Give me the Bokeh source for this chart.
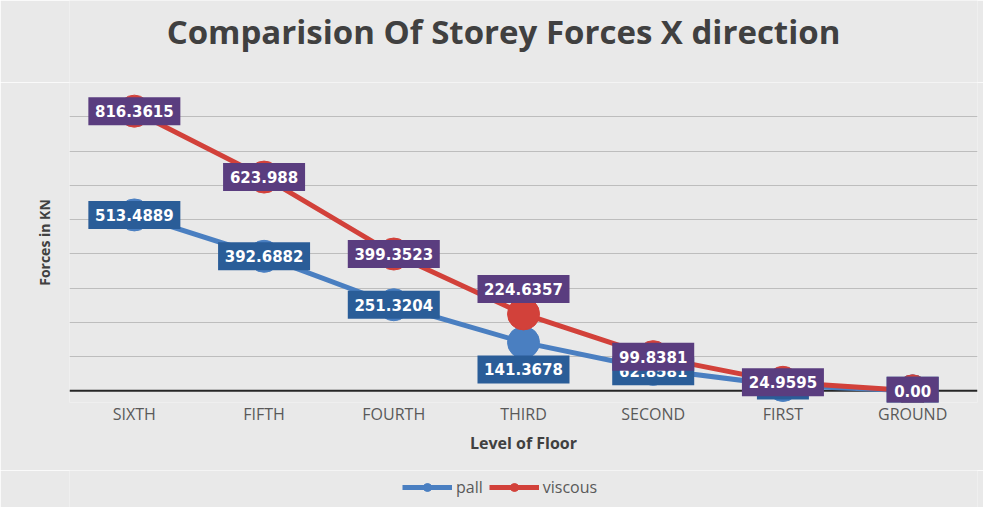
from bokeh.plotting import figure
from bokeh.layouts import column
from bokeh.models import (FactorRange, Range1d, FixedTicker, Span, Legend, LegendItem,
                          ColumnDataSource, Label)
from bokeh.core.properties import value
from bokeh.embed import file_html
from bokeh.resources import INLINE

floors = ["SIXTH", "FIFTH", "FOURTH", "THIRD", "SECOND", "FIRST", "GROUND"]
pall = [513.4889, 392.6882, 251.3204, 141.3678, 62.8581, 15.7, 0.0]
viscous = [816.3615, 623.988, 399.3523, 224.6357, 99.8381, 24.9595, 0.0]
pall_text = ["513.4889", "392.6882", "251.3204", "141.3678", "62.8581", "15.7", "0.00"]
viscous_text = ["816.3615", "623.988", "399.3523", "224.6357", "99.8381", "24.9595", "0.00"]
grid_ticks = [100, 200, 300, 400, 500, 600, 700, 800, 900]
series_names = ["pall", "viscous"]
title_text = "Comparision Of Storey Forces X direction"

# label placement (screen px, positive = down)
pall_dy = [0, 0, 0, 27, 2, 0, 0]
viscous_dy = [0, 0, 0, -25, 0, 0, 0]

Y0, Y1 = -34, 900
FRAME_H = 320
UNITS_PER_PX = (Y1 - Y0) / FRAME_H

BLUE = "#4A7FC1"
RED = "#D2413A"
BLUE_BOX = "#2A5D98"
PURPLE_BOX = "#5A3D7F"
BG = "#E9E9E9"
W = 983
L, R = 69, 6


def strip(height):
    f = figure(width=W, height=height, output_backend="svg", toolbar_location=None,
               x_range=Range1d(L, W - R), y_range=Range1d(height, 0),
               min_border_left=L, min_border_right=R, min_border_top=0, min_border_bottom=0,
               background_fill_color=BG, border_fill_color=BG)
    f.outline_line_color = None
    f.axis.visible = False
    f.grid.visible = False
    return f


# title strip
top = strip(82)
top.add_layout(Label(x=503, y=31, text=title_text, text_font="Open Sans",
                     text_font_size="33px", text_font_style="bold", text_color="#404040",
                     text_align="center", text_baseline="middle"))

# main chart
p = figure(width=W, height=388, output_backend="svg", toolbar_location=None,
           x_range=FactorRange(*floors, range_padding=0), y_range=Range1d(Y0, Y1),
           min_border_left=L, min_border_right=R, min_border_top=0, min_border_bottom=68,
           background_fill_color=BG, border_fill_color=BG)
p.outline_line_color = None

p.xgrid.grid_line_color = None
p.ygrid.ticker = FixedTicker(ticks=grid_ticks)
p.ygrid.grid_line_color = "#BDBDBD"
p.ygrid.grid_line_width = 1

p.yaxis.ticker = FixedTicker(ticks=grid_ticks)
p.yaxis.major_label_overrides = {t: " " for t in grid_ticks}
p.yaxis.major_label_text_font_size = "1px"
p.yaxis.major_label_standoff = 0
p.yaxis.major_tick_out = 0
p.yaxis.major_tick_line_color = None
p.yaxis.minor_tick_line_color = None
p.yaxis.axis_line_color = None
p.yaxis.axis_label = "Forces in KN"
p.yaxis.axis_label_text_font = "Open Sans"
p.yaxis.axis_label_text_font_size = "14px"
p.yaxis.axis_label_text_font_style = "bold"
p.yaxis.axis_label_text_color = "#404040"
p.yaxis.axis_label_standoff = 12

p.xaxis.axis_line_color = None
p.xaxis.major_tick_line_color = None
p.xaxis.major_tick_out = 0
p.xaxis.major_label_standoff = 0
p.xaxis.major_label_text_font = "Open Sans"
p.xaxis.major_label_text_font_size = "16px"
p.xaxis.major_label_text_color = "#595959"
p.xaxis.axis_label = "Level of Floor"
p.xaxis.axis_label_text_font = "Open Sans"
p.xaxis.axis_label_text_font_size = "16px"
p.xaxis.axis_label_text_font_style = "bold"
p.xaxis.axis_label_text_color = "#404040"
p.xaxis.axis_label_standoff = 4

p.add_layout(Span(location=0, dimension="width", line_color="#262626", line_width=2,
                  level="underlay"))


def box_width(texts):
    return [10 * len(t) + 12 for t in texts]


src = ColumnDataSource(dict(
    x=floors, pall=pall, viscous=viscous,
    pall_text=pall_text, viscous_text=viscous_text,
    pall_ly=[v - d * UNITS_PER_PX for v, d in zip(pall, pall_dy)],
    viscous_ly=[v - d * UNITS_PER_PX for v, d in zip(viscous, viscous_dy)],
    pall_w=box_width(pall_text), viscous_w=box_width(viscous_text)))

p.line("x", "pall", source=src, line_color=BLUE, line_width=5)
p.line("x", "viscous", source=src, line_color=RED, line_width=5)
p.scatter("x", "pall", source=src, size=32, fill_color=BLUE, line_color=BLUE)
p.scatter("x", "viscous", source=src, size=32, fill_color=RED, line_color=RED)

for col, box in [("pall", BLUE_BOX), ("viscous", PURPLE_BOX)]:
    p.rect("x", col + "_ly", width=col + "_w", height=28, width_units="screen",
           height_units="screen", source=src, fill_color=box, line_color=None)
    p.text("x", col + "_ly", text=col + "_text", source=src,
           text_font=value("DejaVu Sans"), text_font_style="bold", text_font_size="15px",
           text_color="white", text_align="center", text_baseline="middle")

# legend strip below the chart (proxy renderers hold no visible points)
lg = strip(37)
items = []
for name, color in zip(series_names, [BLUE, RED]):
    proxy = ColumnDataSource(dict(x=[float("nan")], y=[float("nan")]))
    r1 = lg.line("x", "y", source=proxy, line_color=color, line_width=5)
    r2 = lg.scatter("x", "y", source=proxy, size=10, fill_color=color, line_color=color)
    items.append(LegendItem(label=name, renderers=[r1, r2]))
legend = Legend(items=items, orientation="horizontal", location=(333, 9),
                label_text_font="Open Sans", label_text_font_size="16px",
                label_text_color="#595959", glyph_width=50, glyph_height=20,
                spacing=6, label_standoff=4, background_fill_alpha=0,
                border_line_color=None, margin=0, padding=4)
lg.add_layout(legend)

layout = column(top, p, lg, spacing=0)
open("out.html", "w").write(file_html(layout, INLINE))
